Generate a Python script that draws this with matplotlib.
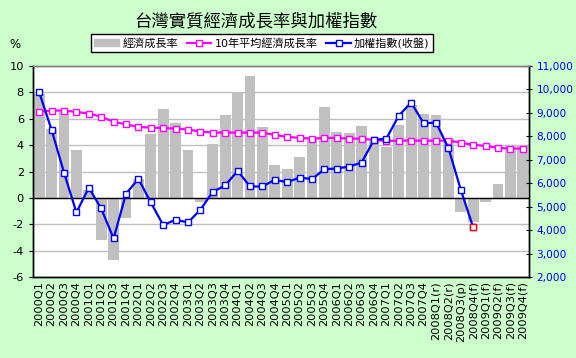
import numpy as np
import matplotlib
matplotlib.use('Agg')
import matplotlib.pyplot as plt
from matplotlib.ticker import FuncFormatter

plt.rcParams['font.family'] = ['DejaVu Sans', 'Noto Sans CJK TC']
plt.rcParams['axes.unicode_minus'] = False

# 季度標籤
quarters = ['2000Q1', '2000Q2', '2000Q3', '2000Q4', '2001Q1', '2001Q2', '2001Q3', '2001Q4',
            '2002Q1', '2002Q2', '2002Q3', '2002Q4', '2003Q1', '2003Q2', '2003Q3', '2003Q4',
            '2004Q1', '2004Q2', '2004Q3', '2004Q4', '2005Q1', '2005Q2', '2005Q3', '2005Q4',
            '2006Q1', '2006Q2', '2006Q3', '2006Q4', '2007Q1', '2007Q2', '2007Q3', '2007Q4',
            '2008Q1(r)', '2008Q2(r)', '2008Q3(p)', '2008Q4(f)', '2009Q1(f)', '2009Q2(f)',
            '2009Q3(f)', '2009Q4(f)']

# 經濟成長率 (%)
growth = [7.9, 5.2, 6.5, 3.6, 0.6, -3.2, -4.7, -1.5, 1.4, 4.85, 6.75, 5.7, 3.65, -0.3, 4.1, 6.3,
          8.0, 9.25, 5.4, 2.5, 2.2, 3.1, 4.45, 6.9, 5.0, 4.9, 5.45, 4.3, 3.85, 5.55, 7.05, 6.35,
          6.3, 4.55, -1.05, -1.8, -0.35, 1.05, 4.0, 4.0]

# 10年平均經濟成長率 (%)
avg10 = [6.54, 6.62, 6.62, 6.52, 6.39, 6.16, 5.76, 5.58, 5.38, 5.33, 5.30, 5.25, 5.18, 5.03,
         4.95, 4.95, 4.95, 4.95, 4.95, 4.77, 4.62, 4.55, 4.49, 4.55, 4.55, 4.49, 4.49, 4.39,
         4.32, 4.34, 4.34, 4.34, 4.34, 4.34, 4.19, 4.02, 3.94, 3.79, 3.74, 3.74]

# 加權指數(收盤)
taiex = [9880, 8274, 6456, 4753, 5804, 4923, 3645, 5549, 6187, 5179, 4215, 4441, 4328, 4867,
         5634, 5904, 6528, 5861, 5861, 6145, 6045, 6244, 6173, 6599, 6627, 6712, 6883, 7848,
         7905, 8885, 9440, 8558, 8586, 7508, 5719, 4115]

bg = '#CCFFCC'
fig = plt.figure(figsize=(5.76, 3.58), dpi=100, facecolor=bg)
ax = fig.add_axes([33/576, 1-277/358, 496/576, 211/358])
ax2 = ax.twinx()

x = np.arange(len(quarters))
ax.bar(x, growth, width=0.86, color='#C0C0C0', zorder=2)
ax.plot(x, avg10, color='#FF00FF', lw=1.6, marker='s', ms=4.5, mfc='white',
        mec='#FF00FF', mew=1.0, zorder=3)
xt = x[:len(taiex)]
ax2.plot(xt, taiex, color='#0000FF', lw=1.6, marker='s', ms=4.5, mfc='white',
         mec='#0000FF', mew=1.0, zorder=4)
ax2.plot(xt[-1:], taiex[-1:], ls='none', marker='s', ms=4.5, mfc='white',
         mec='#FF0000', mew=1.0, zorder=5)

ax.set_xlim(-0.5, len(quarters) - 0.5)
ax.set_ylim(-6, 10)
ax.set_yticks(range(-6, 11, 2))
ax2.set_ylim(2000, 11000)
ax2.set_yticks(range(2000, 11001, 1000))
ax2.yaxis.set_major_formatter(FuncFormatter(lambda v, p: f'{int(v):,}'))

ax.set_axisbelow(True)
ax.yaxis.grid(True, color='#C0C0C0', lw=1.0)
ax.axhline(0, color='black', lw=1.0, zorder=2.5)

ax.set_xticks(x)
ax.set_xticklabels(quarters, rotation=90, fontsize=8.2)
ax.tick_params(axis='x', length=0, pad=3)
ax.tick_params(axis='y', labelsize=8.2, direction='out', length=3)
ax2.tick_params(axis='y', labelsize=7.6, direction='inout', length=5, colors='black',
                labelcolor='#0000FF', pad=3)

for a in (ax, ax2):
    for s in a.spines.values():
        s.set_color('black')
        s.set_linewidth(1.0)
    a.spines['top'].set_color('#808080')
ax2.patch.set_visible(False)

fig.text(256/576, 1-21/358, '台灣實質經濟成長率與加權指數', ha='center', va='center',
         fontsize=12.5)
fig.text(9/576, 1-44/358, '%', ha='left', va='center', fontsize=8.5)

h1 = plt.Rectangle((0, 0), 1, 1, color='#C0C0C0')
h2, = ax.plot([], [], color='#FF00FF', lw=1.6, marker='s', ms=4.5, mfc='white', mec='#FF00FF')
h3, = ax.plot([], [], color='#0000FF', lw=1.6, marker='s', ms=4.5, mfc='white', mec='#0000FF')
leg = fig.legend([h1, h2, h3], ['經濟成長率', '10年平均經濟成長率', '加權指數(收盤)'],
                 loc='center', bbox_to_anchor=(262/576, 1-43/358), ncol=3, fontsize=8,
                 frameon=True, fancybox=False, edgecolor='black', framealpha=1,
                 borderpad=0.3, handlelength=2.2, handletextpad=0.3, columnspacing=0.8,
                 borderaxespad=0)
leg.get_frame().set_linewidth(1.0)

fig.savefig('out.png', dpi=100, facecolor=bg)
